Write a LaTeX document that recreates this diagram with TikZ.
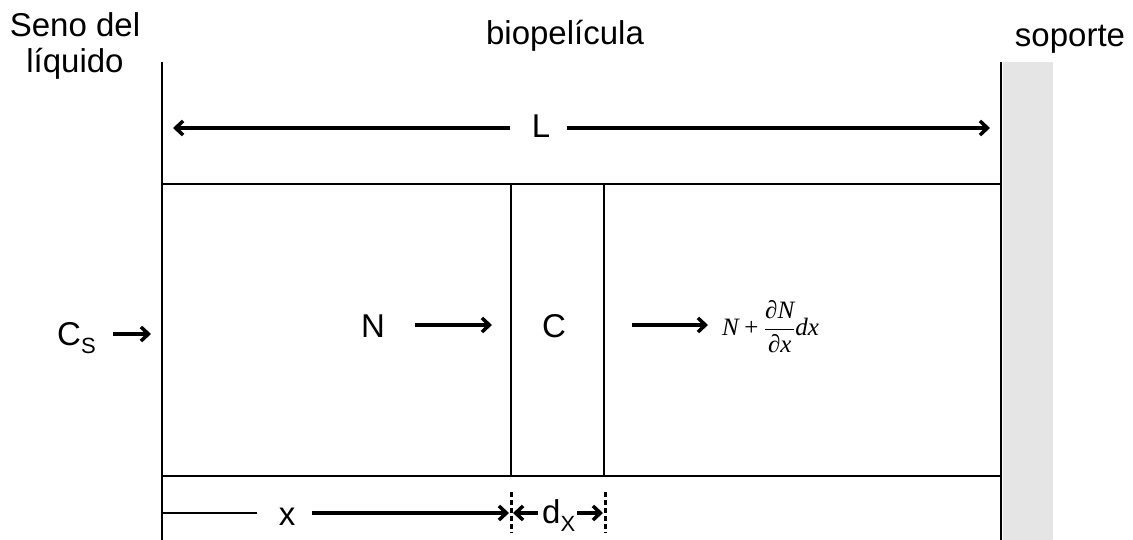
\documentclass[tikz,border=0pt]{standalone}
\usepackage{fontspec}
\setmainfont{Liberation Sans}
\newfontfamily\timesfont{Liberation Serif}
\usetikzlibrary{arrows.meta}
\definecolor{supportgray}{RGB}{229,229,229}
\begin{document}
\begin{tikzpicture}[x=1pt,y=-1pt,
  lbl/.style={font=\fontsize{33}{36}\selectfont, inner sep=0pt, anchor=base},
  sublbl/.style={font=\fontsize{33}{36}\selectfont, inner sep=0pt, anchor=base west},
  thinline/.style={line width=2pt},
  arr/.style={line width=3.5pt, -{Straight Barb[length=7.5pt,width=14pt]}},
  dashline/.style={line width=3pt, dash pattern=on 5pt off 3pt},
  formula/.style={font=\fontsize{25}{28}\selectfont, inner sep=0pt, anchor=west}]
\useasboundingbox (0,0) rectangle (1133,540);
% support
\fill[supportgray] (1003,62) rectangle (1053,540);
% frame coordinates
\coordinate (TL) at (162,62);
\coordinate (BL) at (162,540);
\coordinate (TR) at (1001,62);
\coordinate (BR) at (1001,540);
\coordinate (H1L) at (162,184);
\coordinate (H1R) at (1001,184);
\coordinate (H2L) at (162,476);
\coordinate (H2R) at (1001,476);
\coordinate (V1T) at (511,184);
\coordinate (V1B) at (511,476);
\coordinate (V2T) at (604,184);
\coordinate (V2B) at (604,476);
\draw[thinline] (TL) -- (BL);
\draw[thinline] (TR) -- (BR);
\draw[thinline] (H1L) -- (H1R);
\draw[thinline] (H2L) -- (H2R);
\draw[thinline] (V1T) -- (V1B);
\draw[thinline] (V2T) -- (V2B);
% titles
\node[lbl] (seno) at (75,37) {Seno del};
\node[lbl] (liquido) at (75,73) {líquido};
\node[lbl] (bio) at (565,45) {biopelícula};
\node[lbl] (soporte) at (1070,47) {soporte};
% L dimension
\node[lbl] (L) at (541,138) {L};
\coordinate (La) at (510,128);
\coordinate (Lb) at (173,128);
\coordinate (Lc) at (567,128);
\coordinate (Ld) at (990,128);
\draw[arr] (La) -- (Lb);
\draw[arr] (Lc) -- (Ld);
% Cs
\node[sublbl] (Cs) at (57,345) {C\raisebox{-8pt}{\fontsize{22}{24}\selectfont S}};
\coordinate (Csa) at (113,334);
\coordinate (Csb) at (151,334);
\draw[arr] (Csa) -- (Csb);
% N and C
\node[lbl] (N) at (373,337) {N};
\node[lbl] (C) at (554,337) {C};
\coordinate (Na) at (415,325);
\coordinate (Nb) at (492,325);
\draw[arr] (Na) -- (Nb);
\coordinate (Ca) at (632,325);
\coordinate (Cb) at (708,325);
\draw[arr] (Ca) -- (Cb);
\node[formula] (flux) at (722,327) {$\displaystyle \hbox{\timesfont\itshape N}\mathbin{\hbox{\timesfont +}}\frac{\hbox{\timesfont\itshape ∂N}}{\hbox{\timesfont\itshape ∂x}}\hbox{\timesfont\itshape dx}$};
% bottom dimension
\coordinate (Xa) at (162,513);
\coordinate (Xb) at (257,513);
\draw[thinline] (Xa) -- (Xb);
\node[lbl] (x) at (287,525) {x};
\coordinate (Xc) at (312,513);
\coordinate (Xd) at (509,513);
\draw[arr] (Xc) -- (Xd);
\coordinate (D1a) at (511,492);
\coordinate (D1b) at (511,533);
\coordinate (D2a) at (605,492);
\coordinate (D2b) at (605,533);
\draw[dashline] (D1a) -- (D1b);
\draw[dashline] (D2a) -- (D2b);
\coordinate (Da) at (538,513);
\coordinate (Db) at (513,513);
\draw[arr] (Da) -- (Db);
\node[sublbl] (dx) at (542,523) {d\raisebox{-8pt}{\fontsize{22}{24}\selectfont X}};
\coordinate (Dc) at (577,513);
\coordinate (Dd) at (603,513);
\draw[arr] (Dc) -- (Dd);
\end{tikzpicture}
\end{document}
